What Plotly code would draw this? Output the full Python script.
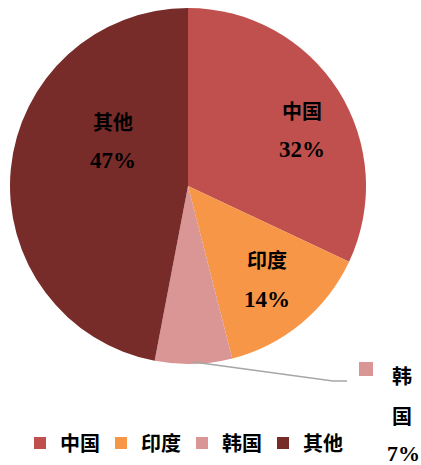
import math
import plotly.graph_objects as go

W, H = 421, 465

countries = ['中国', '印度', '韩国', '其他']
shares = [32, 14, 7, 47]
colors = ['#C0504D', '#F79646', '#D99694', '#772C2A']

CJK = 'Noto Sans CJK SC'
NUM = 'Liberation Serif, Noto Sans CJK SC'

# pie box in pixels (left, top, size)
pie_left, pie_top, pie_size = 10, 8, 356


def px_x(x):
    return x / W


def px_y(y):
    return 1 - y / H


def label(text, x, y, family, size):
    return dict(x=px_x(x), y=px_y(y), xref='paper', yref='paper', text=text,
                xanchor='center', yanchor='middle', showarrow=False,
                font=dict(family=family, size=size, color='black', weight='bold'))


fig = go.Figure()

fig.add_trace(go.Pie(
    labels=countries,
    values=shares,
    sort=False,
    direction='clockwise',
    rotation=0,
    marker=dict(colors=colors, line=dict(width=0)),
    textinfo='none',
    hoverinfo='label+percent',
    domain=dict(x=[px_x(pie_left), px_x(pie_left + pie_size)],
                y=[px_y(pie_top + pie_size), px_y(pie_top)]),
))

# in-slice label positions (pixels): x, name line y, percent line y
label_pos = {'中国': (302, 110, 149), '印度': (267, 259, 299), '其他': (113, 121, 161)}

annotations = []
for name, val in zip(countries, shares):
    if name not in label_pos:
        continue
    x, y1, y2 = label_pos[name]
    annotations.append(label(name, x, y1, CJK, 20))
    annotations.append(label(f'{val}%', x, y2, NUM, 23))

# outside label for 韩国, stacked vertically
k = countries.index('韩国')
annotations.append(label('韩', 402, 375, CJK, 20))
annotations.append(label('国', 402, 415, CJK, 20))
annotations.append(label(f'{shares[k]}%', 403, 453, NUM, 22))

# leader line from slice edge (mid angle of 韩国)
cx = pie_left + pie_size / 2
cy = pie_top + pie_size / 2
r = pie_size / 2
mid = (sum(shares[:k]) + shares[k] / 2) / sum(shares) * 2 * math.pi
sx = cx + (r - 2) * math.sin(mid)
sy = cy - (r - 2) * math.cos(mid)
bend_x, bend_y, end_x = 333, 381, 347

shapes = [
    dict(type='path', xref='paper', yref='paper',
         path=f'M{px_x(sx)},{px_y(sy)} L{px_x(bend_x)},{px_y(bend_y)} L{px_x(end_x)},{px_y(bend_y)}',
         line=dict(color='#A6A6A6', width=1.5)),
    dict(type='rect', xref='paper', yref='paper',
         x0=px_x(359), x1=px_x(373), y0=px_y(376), y1=px_y(362),
         fillcolor=colors[k], line=dict(width=0)),
]

fig.update_layout(
    width=W,
    height=H,
    margin=dict(l=0, r=0, t=0, b=0),
    paper_bgcolor='white',
    plot_bgcolor='white',
    annotations=annotations,
    shapes=shapes,
    showlegend=True,
    legend=dict(
        orientation='h',
        x=px_x(20),
        y=px_y(443),
        xanchor='left',
        yanchor='middle',
        entrywidth=36,
        font=dict(family=CJK, size=20, color='black', weight='bold'),
        traceorder='normal',
    ),
)

fig.write_html('out.html', config={'displayModeBar': False},
               post_script="document.body.style.margin='0';")
